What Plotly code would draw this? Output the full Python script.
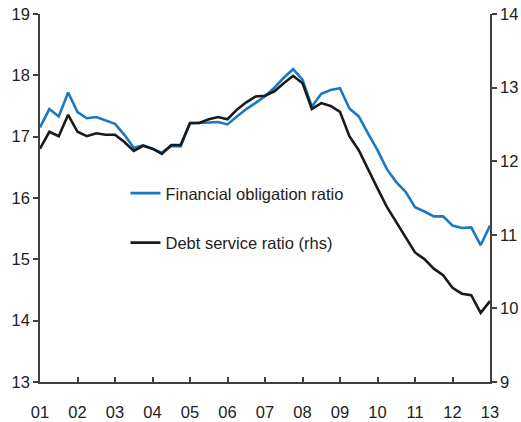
import plotly.graph_objects as go

quarters = [2001 + i * 0.25 for i in range(49)]

financial_obligation = [
    17.15, 17.45, 17.33, 17.72, 17.40, 17.30, 17.32, 17.26, 17.21, 17.03,
    16.82, 16.86, 16.80, 16.74, 16.85, 16.84, 17.22, 17.22, 17.23, 17.24,
    17.20, 17.33, 17.45, 17.55, 17.66, 17.80, 17.96, 18.10, 17.93, 17.49,
    17.70, 17.76, 17.79, 17.46, 17.33, 17.05, 16.78, 16.47, 16.26, 16.10,
    15.85, 15.78, 15.70, 15.70, 15.55, 15.51, 15.52, 15.23, 15.55,
]

debt_service = [
    12.17, 12.40, 12.34, 12.63, 12.40, 12.34, 12.38, 12.36, 12.36, 12.26,
    12.14, 12.21, 12.17, 12.10, 12.22, 12.22, 12.52, 12.52, 12.57, 12.60,
    12.57, 12.70, 12.80, 12.88, 12.89, 12.95, 13.06, 13.16, 13.06, 12.71,
    12.79, 12.75, 12.67, 12.34, 12.15, 11.88, 11.63, 11.38, 11.17, 10.97,
    10.76, 10.67, 10.54, 10.45, 10.28, 10.20, 10.18, 9.94, 10.10,
]

year_ticks = list(range(2001, 2014))
year_labels = ["%02d" % (y - 2000) for y in year_ticks]

left_ticks = [13, 14, 15, 16, 17, 18, 19]
right_ticks = [9, 10, 11, 12, 13, 14]

axis_color = "#404040"
font_family = "Arial, Liberation Sans, sans-serif"

fig = go.Figure()
fig.add_trace(go.Scatter(
    x=quarters, y=financial_obligation, mode="lines",
    name="Financial obligation ratio", legendgroup="a",
    line=dict(color="#1B78C2", width=2.6),
))
fig.add_trace(go.Scatter(
    x=quarters, y=debt_service, mode="lines",
    name="Debt service ratio (rhs)", legendgroup="b",
    line=dict(color="#1a1a1a", width=2.6), yaxis="y2",
))

fig.update_layout(
    width=521, height=422,
    margin=dict(l=40, r=31, t=14, b=40, autoexpand=False),
    paper_bgcolor="white", plot_bgcolor="white",
    font=dict(family=font_family, size=16.5, color="#222222"),
    showlegend=True,
    legend=dict(
        x=0.19, y=0.56, xanchor="left", yanchor="top",
        bgcolor="rgba(0,0,0,0)", borderwidth=0,
        tracegroupgap=25, font=dict(size=16.5, color="#222222"),
    ),
    xaxis=dict(
        range=[2001, 2013], tickvals=year_ticks, ticktext=year_labels,
        showgrid=False, zeroline=False, automargin=False,
        showline=True, linecolor=axis_color, linewidth=1.5,
        ticks="inside", ticklen=5, tickwidth=1.5, tickcolor=axis_color,
        ticklabelstandoff=14, ticklabeloverflow="allow",
    ),
    yaxis=dict(
        range=[13, 19], tickvals=left_ticks, automargin=False,
        showgrid=False, zeroline=False, ticklabeloverflow="allow",
        showline=True, linecolor=axis_color, linewidth=1.5,
        ticks="outside", ticklen=5, tickwidth=1.5, tickcolor=axis_color,
    ),
    yaxis2=dict(
        range=[9, 14], tickvals=right_ticks, overlaying="y", side="right",
        showgrid=False, zeroline=False, automargin=False,
        ticklabeloverflow="allow",
        showline=True, linecolor=axis_color, linewidth=1.5,
        ticks="outside", ticklen=5, tickwidth=1.5, tickcolor=axis_color,
    ),
)

# remove the default page margin so the 521x422 figure fills the window exactly
fig.write_html(
    "out.html",
    config={"displayModeBar": False},
    post_script="document.body.style.margin='0';"
                "document.documentElement.style.overflow='hidden';",
)
